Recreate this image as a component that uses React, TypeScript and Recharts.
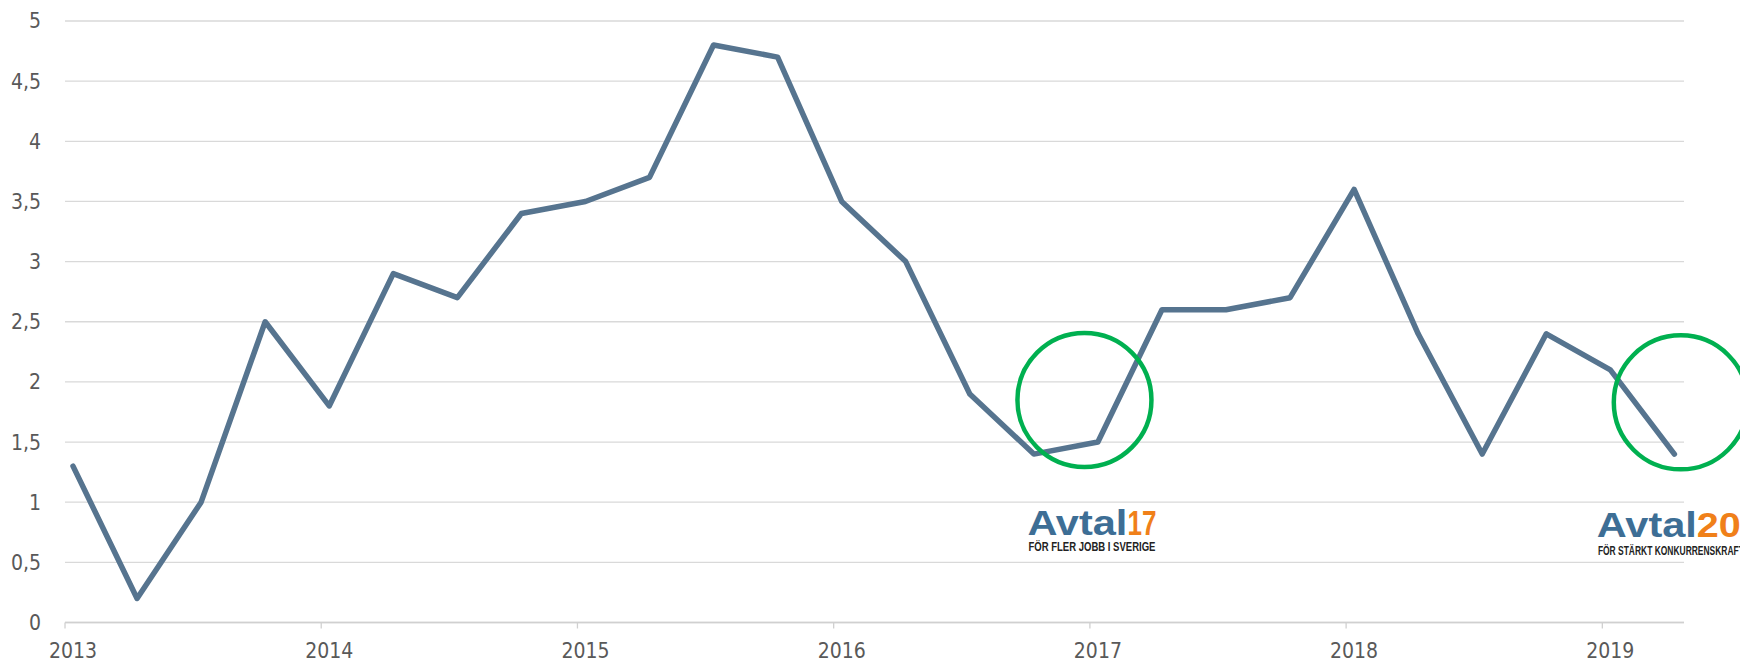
import React from 'react';
import { LineChart, Line, XAxis, YAxis, CartesianGrid, ReferenceDot } from 'recharts';

// Kvartal 2013 K1 – 2019 K2
const quarters = [
  '2013 K1', '2013 K2', '2013 K3', '2013 K4',
  '2014 K1', '2014 K2', '2014 K3', '2014 K4',
  '2015 K1', '2015 K2', '2015 K3', '2015 K4',
  '2016 K1', '2016 K2', '2016 K3', '2016 K4',
  '2017 K1', '2017 K2', '2017 K3', '2017 K4',
  '2018 K1', '2018 K2', '2018 K3', '2018 K4',
  '2019 K1', '2019 K2',
];

const values = [
  1.3, 0.2, 1.0, 2.5,
  1.8, 2.9, 2.7, 3.4,
  3.5, 3.7, 4.8, 4.7,
  3.5, 3.0, 1.9, 1.4,
  1.5, 2.6, 2.6, 2.7,
  3.6, 2.4, 1.4, 2.4,
  2.1, 1.4,
];

const yearLabels = ['2013', '2014', '2015', '2016', '2017', '2018', '2019'];
const yearTicks = [0, 4, 8, 12, 16, 20, 24];
const yTicks = [0, 0.5, 1, 1.5, 2, 2.5, 3, 3.5, 4, 4.5, 5];

// avtalsrörelser: ring och logga, i kvartalsindex / värde
const avtalCircles = [
  { x: 15.79, y: 1.85 },
  { x: 25.1, y: 1.83 },
];
const avtalLogos = [
  { x: 14.9, y: 0.73, year: '17', slogan: 'FÖR FLER JOBB I SVERIGE' },
  { x: 23.79, y: 0.71, year: '20', slogan: 'FÖR STÄRKT KONKURRENSKRAFT' },
];

const chartData = values.map((v, i) => ({ i, quarter: quarters[i], value: v }));

const AXIS_FONT = "'Liberation Sans Narrow', 'DejaVu Sans Condensed', 'Open Sans', sans-serif";
const LOGO_FONT = "'Liberation Sans', Arial, sans-serif";

const YearTick = (props: any) => {
  const { x, y, payload } = props;
  const label = yearLabels[yearTicks.indexOf(payload.value)] ?? '';
  return (
    <g>
      <line x1={x - 8} x2={x - 8} y1={y} y2={y + 6} stroke="#d0d0d0" strokeWidth={1.3} />
      <text x={x} y={y + 35} textAnchor="middle" fontSize={21} fill="#595959" fontFamily={AXIS_FONT}>
        {label}
      </text>
    </g>
  );
};

const LogoShape = (logo: { year: string; slogan: string; sloganWidth: number; yearWidth: number; sloganDy: number }) =>
  (props: any) => {
    const { cx, cy } = props;
    return (
      <g>
        <text
          x={cx}
          y={cy}
          fontSize={35}
          fontWeight={900}
          fill="#3D6E95"
          fontFamily={LOGO_FONT}
          textLength={100}
          lengthAdjust="spacingAndGlyphs"
        >
          Avtal
        </text>
        <text
          x={cx + 100}
          y={cy}
          fontSize={35}
          fontWeight={900}
          fill="#F08019"
          fontFamily={LOGO_FONT}
          textLength={logo.yearWidth}
          lengthAdjust="spacingAndGlyphs"
        >
          {logo.year}
        </text>
        <text
          x={cx + 1}
          y={cy + logo.sloganDy}
          fontSize={12.5}
          fontWeight={700}
          fill="#222222"
          fontFamily={LOGO_FONT}
          textLength={logo.sloganWidth}
          lengthAdjust="spacingAndGlyphs"
        >
          {logo.slogan}
        </text>
      </g>
    );
  };

export default function App() {
  return (
    <div style={{ position: 'absolute', left: 0, top: 0, width: 1740, height: 664, overflow: 'hidden', background: '#fff' }}>
      <LineChart
        width={1740}
        height={664}
        data={chartData}
        margin={{ top: 21, right: 56, left: 0, bottom: 0 }}
      >
        <CartesianGrid horizontal vertical={false} stroke="#d9d9d9" strokeWidth={1.3} />
        <XAxis
          dataKey="i"
          type="number"
          domain={[-0.125, 25.15]}
          ticks={yearTicks}
          interval={0}
          height={41.5}
          tickSize={0}
          tickMargin={0}
          tickLine={false}
          axisLine={{ stroke: '#d0d0d0', strokeWidth: 1.5 }}
          tick={<YearTick />}
        />
        <YAxis
          domain={[0, 5]}
          ticks={yTicks}
          width={65}
          tickSize={0}
          tickMargin={24}
          tickLine={false}
          axisLine={false}
          tickFormatter={(v: number) => String(v).replace('.', ',')}
          tick={{ fontSize: 21, fill: '#595959', fontFamily: AXIS_FONT }}
        />
        <Line
          type="linear"
          dataKey="value"
          stroke="#56748F"
          strokeWidth={5.5}
          strokeLinecap="round"
          strokeLinejoin="round"
          dot={false}
          activeDot={false}
          isAnimationActive={false}
        />
        {avtalCircles.map((c, k) => (
          <ReferenceDot
            key={'circle-' + k}
            x={c.x}
            y={c.y}
            r={67}
            fill="none"
            stroke="#00B050"
            strokeWidth={4.5}
          />
        ))}
        {avtalLogos.map((l, k) => (
          <ReferenceDot
            key={'logo-' + k}
            x={l.x}
            y={l.y}
            r={1}
            shape={LogoShape({
              year: l.year,
              slogan: l.slogan,
              yearWidth: k === 0 ? 29 : 44,
              sloganWidth: k === 0 ? 127 : 146,
              sloganDy: k === 0 ? 16 : 18,
            })}
          />
        ))}
      </LineChart>
    </div>
  );
}
